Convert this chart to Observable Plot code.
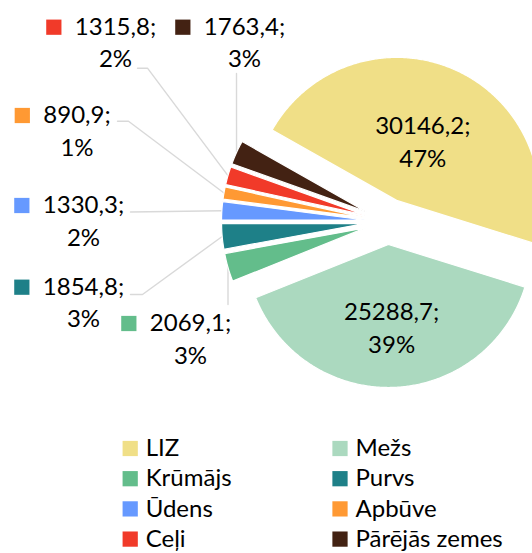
<!DOCTYPE html>
<html><head><meta charset="utf-8">
<script src="https://cdn.jsdelivr.net/npm/d3@7"></script>
<script src="https://cdn.jsdelivr.net/npm/@observablehq/plot@0.6"></script>
<style>html,body{margin:0;padding:0;background:#fff}</style>
</head><body><div id="chart"></div>
<script>
// ---- data ----
const categories = ["LIZ", "Mežs", "Krūmājs", "Purvs", "Ūdens", "Apbūve", "Ceļi", "Pārējās zemes"];
const values = [30146.2, 25288.7, 2069.1, 1854.8, 1330.3, 890.9, 1315.8, 1763.4];
const colors = ["#F0DF87", "#ABD9BF", "#63BD8B", "#1E8088", "#6699FF", "#FF9933", "#F13A29", "#432213"];

// ---- layout ----
const W = 532, H = 553;
const FONT = "Lato";
const FS = 24;
const pieGeom = {cx: 387, cy: 221, r: 143, explode: 23, startDeg: -60.5};
const innerLabelK = {"LIZ": 0.46, "Mežs": 0.57};
const outerLabels = {
  "Krūmājs":       {x: 190, y: 323,   leader: [[227.5, 304]]},
  "Purvs":         {x: 83,  y: 286.7, leader: [[130, 294], [142, 294]]},
  "Ūdens":         {x: 83,  y: 205,   leader: [[130, 211.5]]},
  "Apbūve":        {x: 76.5,y: 115,   leader: [[117, 120.7], [128, 120.7]]},
  "Ceļi":          {x: 115, y: 26.7,  leader: [[137, 67.7], [147, 67.7]]},
  "Pārējās zemes": {x: 244, y: 26.7,  leader: [[236, 73]]}
};
const legendLayout = {colX: [129.7, 339.5], textGap: 15.5, y0: 448, dy: 30.2};

// ---- derived ----
const rows = categories.map((c, i) => ({name: c, value: values[i], color: colors[i]}));
const total = d3.sum(values);
const s0 = pieGeom.startDeg * Math.PI / 180;
const arcs = d3.pie().value(d => d.value).sort(null).startAngle(s0).endAngle(s0 + 2 * Math.PI)(rows);
const pt = (x0, y0, r, a) => [x0 + r * Math.sin(a), y0 - r * Math.cos(a)];
const fmtV = v => v.toFixed(1).replace(".", ",") + ";";
const fmtP = v => Math.round(v / total * 100) + "%";

const slicePts = [];
const geo = {};
arcs.forEach(a => {
  const m = (a.startAngle + a.endAngle) / 2;
  const [ax, ay] = pt(pieGeom.cx, pieGeom.cy, pieGeom.explode, m);
  geo[a.data.name] = {ax, ay, m};
  slicePts.push({name: a.data.name, color: a.data.color, x: ax, y: ay});
  const n = Math.max(4, Math.ceil((a.endAngle - a.startAngle) / (Math.PI / 360)));
  for (let k = 0; k <= n; k++) {
    const t = a.startAngle + (a.endAngle - a.startAngle) * k / n;
    const [x, y] = pt(ax, ay, pieGeom.r, t);
    slicePts.push({name: a.data.name, color: a.data.color, x, y});
  }
});

// inner labels
const innerLbl = rows.filter(d => innerLabelK[d.name] != null).map(d => {
  const g = geo[d.name];
  const [x, y] = pt(g.ax, g.ay, pieGeom.r * innerLabelK[d.name], g.m);
  return {x, y, text: fmtV(d.value) + "\n" + fmtP(d.value)};
});

// outer labels
const ctx = document.createElement("canvas").getContext("2d");
ctx.font = `${FS}px ${FONT}`;
const outerRows = rows.filter(d => outerLabels[d.name]);
const line1 = outerRows.map(d => ({x: outerLabels[d.name].x, y: outerLabels[d.name].y, text: fmtV(d.value)}));
const line2 = outerRows.map(d => ({x: outerLabels[d.name].x, y: outerLabels[d.name].y + 32.5, text: fmtP(d.value)}));
const keys = outerRows.map(d => {
  const L = outerLabels[d.name];
  const w = ctx.measureText(fmtV(d.value)).width;
  return {x: L.x - w / 2 - 21, y: L.y, color: d.color};
});
const leaders = [];
outerRows.forEach(d => {
  const L = outerLabels[d.name], g = geo[d.name];
  L.leader.forEach(([x, y]) => leaders.push({name: d.name, x, y}));
  const [ex, ey] = pt(g.ax, g.ay, pieGeom.r, g.m);
  leaders.push({name: d.name, x: ex, y: ey});
});

// legend
const legend = rows.map((d, i) => ({
  x: legendLayout.colX[i % 2],
  y: legendLayout.y0 + Math.floor(i / 2) * legendLayout.dy,
  name: d.name, color: d.color
}));

const chart = Plot.plot({
  width: W, height: H, margin: 0,
  x: {domain: [0, W], range: [0, W], axis: null},
  y: {domain: [0, H], range: [0, H], axis: null},
  color: {type: "identity"},
  style: {fontFamily: FONT, background: "#fff"},
  marks: [
    Plot.line(leaders, {x: "x", y: "y", z: "name", stroke: "#D9D9D9", strokeWidth: 1.4}),
    Plot.line(slicePts, {x: "x", y: "y", z: "name", fill: "color", stroke: "#fff", strokeWidth: 1.2, curve: "linear-closed"}),
    Plot.text(innerLbl, {x: "x", y: "y", text: "text", fontSize: FS, lineHeight: 1.38, fill: "#000"}),
    Plot.text(line1, {x: "x", y: "y", text: "text", fontSize: FS, fill: "#000"}),
    Plot.text(line2, {x: "x", y: "y", text: "text", fontSize: FS, fill: "#000"}),
    Plot.dot(keys, {x: "x", y: "y", fill: "color", symbol: "square", r: 8.6}),
    Plot.dot(legend, {x: "x", y: "y", fill: "color", symbol: "square", r: 8.6}),
    Plot.text(legend, {x: d => d.x + legendLayout.textGap, y: "y", text: "name", textAnchor: "start", fontSize: FS, fill: "#000"})
  ]
});
document.getElementById("chart").appendChild(chart);
</script>
</body></html>
